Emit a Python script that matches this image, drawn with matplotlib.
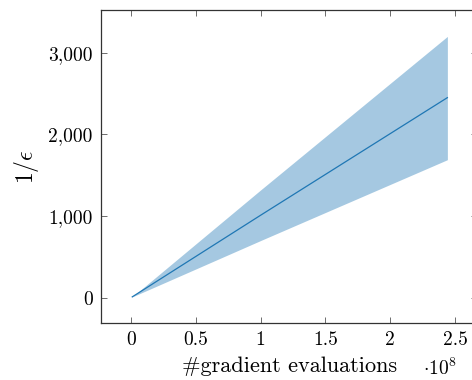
import matplotlib
matplotlib.use('Agg')
import matplotlib.pyplot as plt
from matplotlib.ticker import FuncFormatter, MultipleLocator

plt.rcParams['font.family'] = 'cmr10'
plt.rcParams['mathtext.fontset'] = 'cm'
plt.rcParams['axes.unicode_minus'] = False
plt.rcParams['axes.formatter.use_mathtext'] = True

# gradient evaluations (in units of 1e8) and 1/eps: mean with band
evals = [0.01, 1.0, 2.44]
inv_eps_mean = [10, 1010, 2450]
inv_eps_upper = [10, 1320, 3200]
inv_eps_lower = [10, 700, 1690]

fig = plt.figure(figsize=(4.72, 3.8), dpi=100)
ax = fig.add_axes([0.214, 0.15, 0.797, 0.824])

ax.fill_between(evals, inv_eps_lower, inv_eps_upper, color='#1f77b4', alpha=0.4, linewidth=0)
ax.plot(evals, inv_eps_mean, color='#1f77b4', linewidth=0.9)

ax.set_xlim(-0.231, 2.67)
ax.set_ylim(-310, 3525)
ax.xaxis.set_major_locator(MultipleLocator(0.5))
ax.yaxis.set_major_locator(MultipleLocator(1000))
ax.xaxis.set_major_formatter(FuncFormatter(lambda v, p: f'{v:g}'))
ax.yaxis.set_major_formatter(FuncFormatter(lambda v, p: f'{v:,.0f}'))

ax.tick_params(direction='in', top=True, right=True, length=4.3, width=0.6,
               color='#555555', labelsize=14, pad=6)
for s in ax.spines.values():
    s.set_linewidth(0.9)
    s.set_color('#333333')

ax.set_xlabel('#gradient evaluations', fontsize=16, labelpad=5.5)
ax.set_ylabel(r'$1/\epsilon$', fontsize=17, labelpad=5)
fig.text(0.932, 0.012, r'$\cdot 10^8$', fontsize=14, ha='center', va='baseline')

fig.savefig('out.png', dpi=100)
